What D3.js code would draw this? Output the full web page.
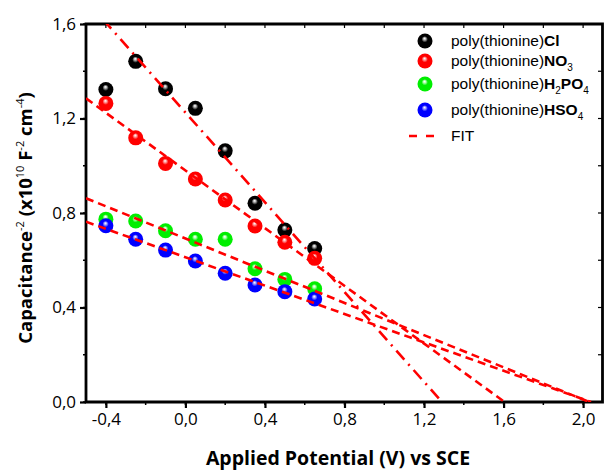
<!DOCTYPE html>
<html>
<head>
<meta charset="utf-8">
<script src="https://d3js.org/d3.v7.min.js"></script>
<style>
  body { margin: 0; background: #fff; }
  text { fill: #000; }
</style>
</head>
<body>
<div id="chart"></div>
<script>
// data
var potential = [-0.4, -0.25, -0.1, 0.05, 0.2, 0.35, 0.5, 0.65];
var capCl     = [1.323, 1.442, 1.326, 1.243, 1.063, 0.841, 0.728, 0.650];
var capNO3    = [1.264, 1.118, 1.010, 0.944, 0.855, 0.745, 0.676, 0.608];
var capH2PO4  = [0.774, 0.766, 0.725, 0.689, 0.689, 0.564, 0.519, 0.479];
var capHSO4   = [0.746, 0.689, 0.643, 0.597, 0.545, 0.495, 0.467, 0.436];
var fitIntercept = [1.2255, 0.980, 0.692, 0.6128];
var fitSlope     = [-0.950, -0.6105, -0.3407, -0.3004];
var seriesColors = ["#000000", "#ff0000", "#00ee00", "#0000ff"];
var legendAnion  = ["Cl", "NO3", "H2PO4", "HSO4"];
var xTicks = [-0.4, 0.0, 0.4, 0.8, 1.2, 1.6, 2.0];
var yTicks = [0.0, 0.4, 0.8, 1.2, 1.6];

var W = 604, H = 472;
var svg = d3.select("#chart").append("svg")
    .attr("width", W).attr("height", H);

var x = d3.scaleLinear().domain([-0.5, 2.1]).range([86, 603]);
var y = d3.scaleLinear().domain([0, 1.6]).range([402, 24]);

var fmt = function(v) {
  return (v < -1e-9 ? "-" : "") + Math.abs(v).toFixed(1).replace(".", ",");
};

// sphere gradients
var defs = svg.append("defs");
var hl = ["#bbbbbb", "#ffb0b0", "#c0ffc0", "#b0b0ff"];
seriesColors.forEach(function(c, i) {
  var g = defs.append("radialGradient").attr("id", "ball" + i)
      .attr("cx", 0.5).attr("cy", 0.5).attr("r", 0.55)
      .attr("fx", 0.47).attr("fy", 0.32);
  g.append("stop").attr("offset", "0%").attr("stop-color", "#ffffff");
  g.append("stop").attr("offset", "14%").attr("stop-color", hl[i]);
  g.append("stop").attr("offset", "38%").attr("stop-color", c);
  g.append("stop").attr("offset", "100%").attr("stop-color", c);
});
defs.append("clipPath").attr("id", "plotclip").append("rect")
  .attr("x", 86).attr("y", 24).attr("width", 517).attr("height", 378);

// axes
var axisFont = "'Open Sans', sans-serif";
var minorX = d3.range(-0.4, 2.01, 0.2);
var minorY = d3.range(0, 1.61, 0.2);

var gx = svg.append("g").attr("transform", "translate(0,402)")
  .call(d3.axisBottom(x).tickValues(xTicks).tickFormat(fmt).tickSizeInner(6).tickSizeOuter(0).tickPadding(5));
var gy = svg.append("g").attr("transform", "translate(86,0)")
  .call(d3.axisLeft(y).tickValues(yTicks).tickFormat(fmt).tickSizeInner(6).tickSizeOuter(0).tickPadding(4));
[gx, gy].forEach(function(g) {
  g.select(".domain").remove();
  g.selectAll(".tick line").attr("stroke", "#000").attr("stroke-width", 2.2);
  g.selectAll(".tick text").style("font-family", axisFont).style("font-size", "17px").attr("fill", "#000");
});

// minor ticks
svg.append("g").selectAll("line").data(minorX).join("line")
  .attr("x1", function(d) { return x(d); }).attr("x2", function(d) { return x(d); })
  .attr("y1", 402).attr("y2", 405).attr("stroke", "#000").attr("stroke-width", 1.5);
svg.append("g").selectAll("line").data(minorY).join("line")
  .attr("y1", function(d) { return y(d); }).attr("y2", function(d) { return y(d); })
  .attr("x1", 86).attr("x2", 83).attr("stroke", "#000").attr("stroke-width", 1.5);
// top mirror ticks (inward)
svg.append("g").selectAll("line").data(minorX).join("line")
  .attr("x1", function(d) { return x(d); }).attr("x2", function(d) { return x(d); })
  .attr("y1", 24).attr("y2", 28).attr("stroke", "#000").attr("stroke-width", 1.2);
svg.append("g").selectAll("line").data(minorY).join("line")
  .attr("y1", function(d) { return y(d); }).attr("y2", function(d) { return y(d); })
  .attr("x1", 602).attr("x2", 598).attr("stroke", "#000").attr("stroke-width", 1.2);

// frame
svg.append("path")
  .attr("d", "M86,24 H602.5 V402 H86 Z")
  .attr("fill", "none").attr("stroke", "#000").attr("stroke-width", 2.8);

// data spheres
var series = [capCl, capNO3, capH2PO4, capHSO4];
var plot = svg.append("g");
series.forEach(function(vals, i) {
  plot.append("g").selectAll("circle").data(vals).join("circle")
    .attr("cx", function(d, j) { return x(potential[j]); })
    .attr("cy", function(d) { return y(d); })
    .attr("r", 7.5)
    .attr("fill", "url(#ball" + i + ")");
});

// fit lines
var fits = svg.append("g").attr("clip-path", "url(#plotclip)");
fitIntercept.forEach(function(a, i) {
  var b = fitSlope[i];
  var x0 = -0.5, x1 = -a / b;
  var pts = [[x0, a + b * x0], [x1, 0]];
  fits.append("path")
    .datum(pts)
    .attr("d", d3.line().x(function(d) { return x(d[0]); }).y(function(d) { return y(d[1]); }))
    .attr("fill", "none")
    .attr("stroke", "#ff0000")
    .attr("stroke-width", 2.6)
    .attr("stroke-dasharray", i === 0 ? "12,6,2,6" : "8,5");
});

// legend
var legFont = "'Liberation Sans', Arial, sans-serif";
var legY = [41, 61, 84, 110];
var leg = svg.append("g");
legendAnion.forEach(function(name, i) {
  leg.append("circle").attr("cx", 425).attr("cy", legY[i]).attr("r", 7.5)
    .attr("fill", "url(#ball" + i + ")");
  var t = leg.append("text").attr("x", 451).attr("y", legY[i] + 5)
    .style("font-family", legFont).style("font-size", "15.5px");
  t.append("tspan").text("poly(thionine)");
  var parts = name.match(/[A-Za-z]+|\d+/g);
  var down = false;
  parts.forEach(function(p) {
    var isSub = /\d/.test(p);
    var s = t.append("tspan").text(p);
    if (isSub) {
      s.style("font-size", "10px").style("font-weight", "normal").attr("dy", down ? null : 5);
      down = true;
    } else {
      s.style("font-weight", "bold");
      if (down) { s.attr("dy", -5); down = false; }
    }
  });
});
leg.append("line").attr("x1", 409).attr("x2", 434).attr("y1", 136).attr("y2", 136)
  .attr("stroke", "#ff0000").attr("stroke-width", 2.6).attr("stroke-dasharray", "8,9");
leg.append("text").attr("x", 451).attr("y", 141)
  .style("font-family", legFont).style("font-size", "15.5px").text("FIT");

// axis titles
svg.append("text")
  .attr("x", 338).attr("y", 465)
  .attr("text-anchor", "middle")
  .style("font-family", axisFont).style("font-size", "19.5px").style("font-weight", "bold")
  .text("Applied Potential (V) vs SCE");

var yt = svg.append("text")
  .attr("transform", "translate(32,218) rotate(-90)")
  .attr("text-anchor", "middle")
  .style("font-family", axisFont).style("font-size", "18.5px").style("font-weight", "bold");
var ySegs = [["Capacitance", 0], ["-2", 1], [" (x10", 0], ["10", 1], [" F", 0], ["-2", 1], [" cm", 0], ["-4", 1], [")", 0]];
var up = false;
ySegs.forEach(function(s) {
  var ts = yt.append("tspan").text(s[0]);
  if (s[1]) {
    ts.style("font-size", "11px").style("font-weight", "normal").attr("dy", up ? null : -8);
    up = true;
  } else if (up) {
    ts.attr("dy", 8); up = false;
  }
});
</script>
</body>
</html>
